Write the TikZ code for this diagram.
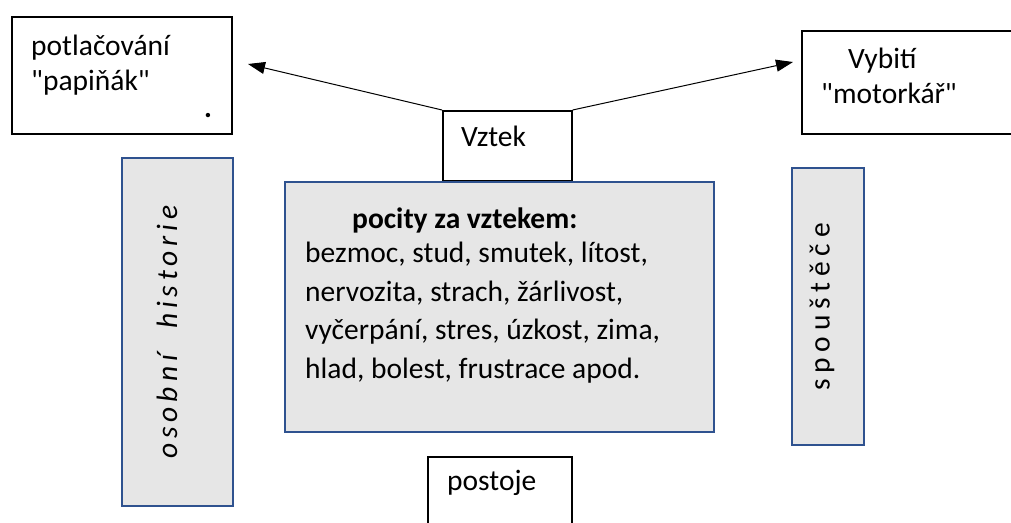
\documentclass[tikz,border=0pt]{standalone}
\usepackage{fontspec}
\setmainfont{Carlito}[Ligatures=TeXOff]
\usetikzlibrary{arrows.meta}
\definecolor{boxblue}{HTML}{2F528F}
\definecolor{boxgrey}{HTML}{E6E6E6}
\begin{document}
\begin{tikzpicture}[x=1pt,y=-1pt,
  plainbox/.style={draw=black, line width=1.6pt, fill=white, inner sep=0pt, anchor=north west},
  greybox/.style={draw=boxblue, fill=boxgrey, line width=1.8pt, inner sep=0pt, anchor=north west},
  label/.style={anchor=base west, inner sep=0pt, font=\fontsize{29.5}{35}\selectfont},
  vlabel/.style={rotate=90, inner sep=0pt, font=\fontsize{29.5}{35}\selectfont\addfontfeatures{LetterSpace=20}},
  vlabelit/.style={rotate=90, inner sep=0pt, font=\fontsize{29.5}{35}\selectfont\itshape\addfontfeatures{LetterSpace=17}},
  arr/.style={-{Triangle[length=17pt,width=12pt]}, line width=1pt}]
\useasboundingbox (0,0) rectangle (1011,522);
\fill[white] (0,0) rectangle (1011,522);

% top boxes
\node[plainbox, minimum width=220, minimum height=117] (supp) at (11,16) {};
\node[plainbox, minimum width=220, minimum height=103] (vent) at (801,30) {};
\node[plainbox, minimum width=129, minimum height=70] (anger) at (442,110) {};

% grey boxes
\node[greybox, minimum width=429, minimum height=250] (feel) at (284,181) {};
\node[greybox, minimum width=111, minimum height=348] (hist) at (121,157) {};
\node[greybox, minimum width=72, minimum height=277] (trig) at (791,167) {};

% bottom box
\node[plainbox, minimum width=144, minimum height=80] (att) at (427,456) {};

% texts
\node[label] (t1) at (31,55) {potlačování};
\node[label] (t2) at (31,90) {"papiňák"};
\node[inner sep=0pt, font=\fontsize{29.5}{35}\selectfont\bfseries] (dot) at (208,116) {.};
\node[label] (t3) at (848,68) {Vybití};
\node[label] (t4) at (821,103) {"motorkář"};
\node[label] (t5) at (461,146) {Vztek};
\node[label] (t6) at (447,490) {postoje};
\node[label, font=\fontsize{29.5}{35}\selectfont\bfseries] (t7) at (352,228) {pocity za vztekem:};
\node[anchor=north west, inner sep=0pt, align=left, font=\fontsize{29.5}{38.5}\selectfont] (t8) at (305,242)
  {bezmoc, stud, smutek, lítost,\\nervozita, strach, žárlivost,\\vyčerpání, stres, úzkost, zima,\\hlad, bolest, frustrace apod.};
\node[vlabelit] (t9) at (167,332) {osobní\hspace{26pt}historie};
\node[vlabel] (t10) at (822,307) {spouštěče};

% arrows from the anger box
\coordinate (lt) at (248,64);
\coordinate (rt) at (793,62);
\draw[arr] (anger.north west) -- (lt);
\draw[arr] (anger.north east) -- (rt);
\end{tikzpicture}
\end{document}
